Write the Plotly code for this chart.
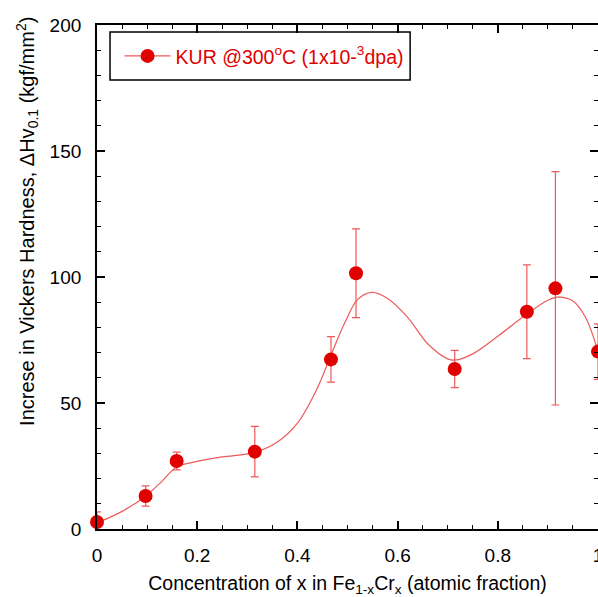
import plotly.graph_objects as go

# measured data
x_conc = [0.0, 0.097, 0.159, 0.315, 0.467, 0.517, 0.714, 0.858, 0.915, 1.0]
dhv = [2.8, 13.1, 27.0, 30.7, 67.3, 101.5, 63.5, 86.2, 95.5, 70.4]
dhv_err = [4.0, 4.0, 3.5, 10.0, 9.0, 17.6, 7.4, 18.6, 46.3, 11.0]

# smooth fit curve
fit_x = [0.0, 0.05, 0.097, 0.13, 0.159, 0.2, 0.25, 0.315, 0.36, 0.4, 0.44, 0.467, 0.495, 0.52, 0.548,
         0.58, 0.62, 0.66, 0.7, 0.714, 0.75, 0.8, 0.858, 0.9, 0.92, 0.95, 0.975, 1.0]
fit_y = [2.4, 7.0, 13.0, 19.0, 24.6, 26.8, 28.6, 30.4, 34.5, 42.0, 56.0, 69.0, 82.0, 91.0, 93.9,
         91.5, 84.0, 73.5, 67.5, 67.0, 69.5, 76.5, 85.3, 90.8, 92.0, 90.5, 84.0, 70.4]

x_range = [0, 1.0]
y_range = [0, 200]

red = "#e00000"
light = "#ee5a5a"
legend_name = "KUR @300<sup>o</sup>C (1x10-<sup>3</sup>dpa)"
y_title = "Increse in Vickers Hardness, \u0394Hv<sub>0.1</sub> (kgf/mm<sup>2</sup>)"
x_title = "Concentration of x in Fe<sub>1-x</sub>Cr<sub>x</sub> (atomic fraction)"

fig = go.Figure()
fig.add_trace(go.Scatter(
    x=fit_x, y=fit_y, mode="lines", line=dict(color=light, width=1.2, shape="spline", smoothing=1.0),
    showlegend=False, hoverinfo="skip"))
fig.add_trace(go.Scatter(
    x=x_conc, y=dhv, mode="markers",
    marker=dict(color=red, size=14, line=dict(width=0)),
    error_y=dict(type="data", array=dhv_err, color=light, thickness=1.2, width=4),
    showlegend=False, cliponaxis=False))
# legend entry (line + marker symbol)
fig.add_trace(go.Scatter(
    x=[None], y=[None], mode="lines+markers", name=legend_name,
    line=dict(color=light, width=1.2), marker=dict(color=red, size=14)))
fig.add_trace(go.Scatter(x=[None], y=[None], yaxis="y2", showlegend=False))

font_fam = "Liberation Sans, Arial, sans-serif"
fig.update_layout(
    width=598, height=597,
    margin=dict(l=97, r=0, t=25, b=68, autoexpand=False),
    paper_bgcolor="white", plot_bgcolor="white",
    font=dict(family=font_fam, color="black", size=19),
    showlegend=True,
    legend=dict(x=0.045, y=0.938, xanchor="left", yanchor="middle",
                borderwidth=0, bgcolor="rgba(0,0,0,0)", itemwidth=46,
                font=dict(color=red, size=19.5, family=font_fam)),
    xaxis=dict(range=x_range, showgrid=False, zeroline=False, automargin=False,
               showline=True, linecolor="black", linewidth=1.8, mirror="ticks",
               ticks="inside", ticklen=8, tickwidth=1.5, tickcolor="black",
               dtick=0.2, tick0=0, tickformat="~g", ticklabelstandoff=8,
               ticklabeloverflow="allow",
               minor=dict(dtick=0.05, ticks="inside", ticklen=4, tickwidth=1.2, tickcolor="black"),
               title=dict(text=x_title, font=dict(size=19.5), standoff=12)),
    yaxis=dict(range=y_range, showgrid=False, zeroline=False, automargin=False,
               showline=True, linecolor="black", linewidth=1.8, mirror=False,
               ticks="inside", ticklen=8, tickwidth=1.5, tickcolor="black",
               dtick=50, tick0=0, ticklabelstandoff=10,
               minor=dict(dtick=10, ticks="inside", ticklen=4, tickwidth=1.2, tickcolor="black")),
    yaxis2=dict(range=y_range, overlaying="y", side="right", showgrid=False, zeroline=False,
                showline=False, showticklabels=False, ticks="inside", ticklen=8, tickwidth=1.5,
                tickcolor="black", dtick=50, tick0=0, automargin=False,
                minor=dict(dtick=10, ticks="inside", ticklen=4, tickwidth=1.2, tickcolor="black")),
    shapes=[dict(type="rect", xref="paper", yref="paper", x0=0.026, x1=0.625, y0=0.891, y1=0.986,
                 line=dict(color="black", width=1.5), fillcolor="rgba(0,0,0,0)", layer="above")],
)
fig.add_annotation(x=-0.14, y=0.611, xref="paper", yref="paper", text=y_title, textangle=-90,
                   showarrow=False, xanchor="center", yanchor="middle",
                   font=dict(size=20, color="black", family=font_fam))
fig.write_html("out.html")
